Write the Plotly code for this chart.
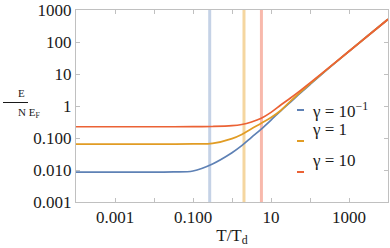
import plotly.graph_objects as go

# T/T_d sample points (log10) and read-off values of E/(N E_F)
logT = [-4, -3, -2, -1.5, -1, -0.5, 0, 0.25, 0.5, 0.75, 1.0, 1.25, 1.5, 1.75, 2.0, 2.5, 3.0, 3.5, 4.0]
T = [10 ** v for v in logT]

logE_blue = [-2.065, -2.065, -2.065, -2.06, -2.03, -1.81, -1.46, -1.24, -0.98, -0.72, -0.44, -0.15, 0.12, 0.40, 0.67, 1.20, 1.71, 2.21, 2.71]
logE_orange = [-1.19, -1.19, -1.19, -1.19, -1.185, -1.17, -1.02, -0.89, -0.71, -0.54, -0.36, -0.14, 0.15, 0.43, 0.69, 1.205, 1.71, 2.21, 2.71]
logE_red = [-0.648, -0.648, -0.648, -0.648, -0.646, -0.64, -0.616, -0.578, -0.50, -0.384, -0.20, 0.03, 0.25, 0.48, 0.72, 1.215, 1.71, 2.21, 2.71]

E_blue = [10 ** v for v in logE_blue]
E_orange = [10 ** v for v in logE_orange]
E_red = [10 ** v for v in logE_red]

series_names = ["γ = 10<sup>−1</sup>", "γ = 1", "γ = 10"]
vline_T = [0.268, 2.03, 5.68]

xtick_vals = [1e-3, 1e-1, 1e1, 1e3]
xtick_text = ["0.001", "0.100", "10", "1000"]
ytick_vals = [1e-3, 1e-2, 1e-1, 1, 10, 100, 1000]
ytick_text = ["0.001", "0.010", "0.100", "1", "10", "100", "1000"]

colors = ["#5E81B5", "#E19C24", "#EB6235"]
light = ["#c5d2e6", "#f5d6a0", "#f8b9ac"]

fig = go.Figure()

for v, c in zip(vline_T, light):
    fig.add_trace(go.Scatter(x=[v, v], y=[1e-3, 1e3], mode="lines",
                             line=dict(color=c, width=3), showlegend=False, hoverinfo="skip"))

for E, c, n in zip([E_blue, E_orange, E_red], colors, series_names):
    fig.add_trace(go.Scatter(x=T, y=E, mode="lines", name=n,
                             line=dict(color=c, width=1.7, shape="spline", smoothing=1.0),
                             showlegend=False))

serif = "Liberation Serif"
txt = "#1a1a1a"
axis_common = dict(type="log", showgrid=False, zeroline=False, mirror="allticks",
                   showline=True, linecolor="#c0c0c0", linewidth=1,
                   ticks="inside", ticklen=4, tickcolor="#c0c0c0",
                   tickfont=dict(family=serif, size=17, color=txt))

fig.update_xaxes(range=[-4, 4], tickvals=xtick_vals, ticktext=xtick_text,
                 title=dict(text="T/T<sub>d</sub>", font=dict(family=serif, size=17, color=txt), standoff=2),
                 minor=dict(tickvals=[1e-4, 1e-2, 1, 1e2, 1e4], ticks="inside", ticklen=4, tickcolor="#c0c0c0"),
                 **axis_common)
fig.update_yaxes(range=[-3, 3], tickvals=ytick_vals, ticktext=ytick_text, **axis_common)

W, H = 390, 248
ML, MR, MT, MB = 76, 2, 10, 46
fig.update_layout(
    width=W, height=H,
    margin=dict(l=ML, r=MR, t=MT, b=MB),
    paper_bgcolor="white", plot_bgcolor="white",
)

pw, ph = W - ML - MR, H - MT - MB
def px(xp):
    return (xp - ML) / pw
def py(yp):
    return (H - MB - yp) / ph

# y-axis label as a fraction
fig.add_annotation(x=px(16), y=py(101), xref="paper", yref="paper", text="E", showarrow=False,
                   yanchor="bottom", font=dict(family=serif, size=11, color=txt))
fig.add_annotation(x=px(16), y=py(104), xref="paper", yref="paper", text="N E<sub>F</sub>", showarrow=False,
                   yanchor="top", font=dict(family=serif, size=11, color=txt))
fig.add_shape(type="line", xref="paper", yref="paper", x0=px(3), x1=px(28), y0=py(102.5), y1=py(102.5),
              line=dict(color=txt, width=1))

# Legend (manual)
leg_y = [110, 141, 172]
for yy, c, n in zip(leg_y, colors, series_names):
    fig.add_shape(type="line", xref="paper", yref="paper", x0=px(297), x1=px(304), y0=py(yy), y1=py(yy),
                  line=dict(color=c, width=2))
    fig.add_annotation(x=px(310), y=py(yy), xref="paper", yref="paper", text=n, showarrow=False,
                       xanchor="left", font=dict(family=serif, size=17, color=txt))

fig.write_html("out.html", config={"displayModeBar": False},
               post_script="document.body.style.margin='0';")
